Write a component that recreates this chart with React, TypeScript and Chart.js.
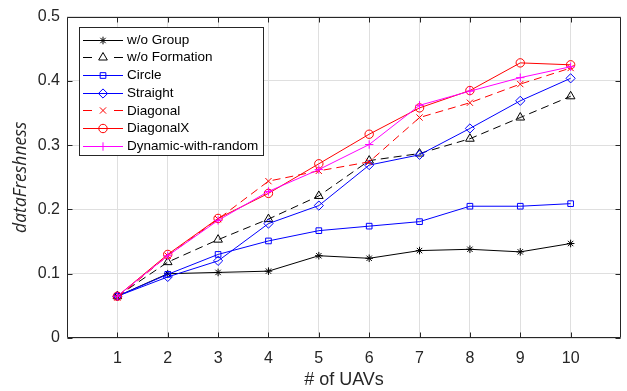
import React, { useEffect, useRef } from 'react';
import { Chart, registerables } from 'chart.js';
import { drawPoint } from 'chart.js/helpers';

Chart.register(...registerables);

// ---- data ----
const uavCounts = [1, 2, 3, 4, 5, 6, 7, 8, 9, 10];
const yTicks = [0, 0.1, 0.2, 0.3, 0.4, 0.5];
const woGroup = [0.065, 0.100, 0.102, 0.104, 0.128, 0.124, 0.136, 0.138, 0.134, 0.147];
const woFormation = [0.065, 0.118, 0.153, 0.185, 0.221, 0.276, 0.287, 0.310, 0.343, 0.376];
const circle = [0.065, 0.099, 0.130, 0.151, 0.167, 0.174, 0.181, 0.205, 0.205, 0.209];
const straight = [0.065, 0.095, 0.120, 0.178, 0.206, 0.269, 0.285, 0.326, 0.369, 0.404];
const diagonal = [0.063, 0.128, 0.185, 0.244, 0.260, 0.274, 0.343, 0.366, 0.395, 0.420];
const diagonalX = [0.065, 0.130, 0.186, 0.225, 0.271, 0.317, 0.358, 0.385, 0.428, 0.425];
const dynamicRandom = [0.065, 0.128, 0.183, 0.228, 0.262, 0.301, 0.362, 0.384, 0.405, 0.422];
const seriesNames = ['w/o Group', 'w/o Formation', 'Circle', 'Straight', 'Diagonal', 'DiagonalX', 'Dynamic-with-random'];
const seriesValues = [woGroup, woFormation, circle, straight, diagonal, diagonalX, dynamicRandom];

// ---- styles ----
const seriesStyles = [
  { color: '#000000', dash: [] as number[], point: 'star', r: 3.8 },
  { color: '#000000', dash: [8, 5], point: 'triangle', r: 5 },
  { color: '#0000ff', dash: [], point: 'rect', r: 4 },
  { color: '#0000ff', dash: [], point: 'rectRot', r: 4.6 },
  { color: '#ff0000', dash: [8, 5], point: 'crossRot', r: 4.4 },
  { color: '#ff0000', dash: [], point: 'circle', r: 4.2 },
  { color: '#ff00ff', dash: [], point: 'cross', r: 4.2 },
];

const FONT = '"Liberation Sans", Arial, Helvetica, sans-serif';
const AXIS_COLOR = '#262626';

const framePlugin = {
  id: 'frameAndLegend',
  afterDraw(chart: any) {
    const { ctx, chartArea: a, scales } = chart;
    ctx.save();
    ctx.strokeStyle = AXIS_COLOR;
    ctx.lineWidth = 1;
    ctx.setLineDash([]);
    const L = Math.round(a.left) + 0.5;
    const R = Math.round(a.right) - 0.5;
    const T = Math.round(a.top) + 0.5;
    const B = Math.round(a.bottom) - 0.5;
    ctx.beginPath();
    ctx.rect(L, T, R - L, B - T);
    const tl = 5;
    for (const v of uavCounts) {
      const x = Math.round(scales.x.getPixelForValue(v)) + 0.5;
      ctx.moveTo(x, B); ctx.lineTo(x, B - tl);
      ctx.moveTo(x, T); ctx.lineTo(x, T + tl);
    }
    for (const v of yTicks) {
      const y = Math.round(scales.y.getPixelForValue(v)) + 0.5;
      ctx.moveTo(L, y); ctx.lineTo(L + tl, y);
      ctx.moveTo(R, y); ctx.lineTo(R - tl, y);
    }
    ctx.stroke();

    // legend
    const bx = 79.5, by = 27.5, bw = 184, bh = 128;
    ctx.fillStyle = '#ffffff';
    ctx.fillRect(bx, by, bw, bh);
    ctx.strokeStyle = AXIS_COLOR;
    ctx.strokeRect(bx, by, bw, bh);
    ctx.font = `13.5px ${FONT}`;
    ctx.textBaseline = 'middle';
    ctx.textAlign = 'left';
    seriesNames.forEach((name, i) => {
      const st = seriesStyles[i];
      const y = 39.5 + i * 17.73;
      const yy = Math.round(y) + 0.5;
      ctx.strokeStyle = st.color;
      ctx.lineWidth = 1;
      ctx.setLineDash([]);
      ctx.beginPath();
      if (st.dash.length) {
        ctx.moveTo(83, yy); ctx.lineTo(92, yy);
        ctx.moveTo(114, yy); ctx.lineTo(123, yy);
      } else {
        ctx.moveTo(83, yy); ctx.lineTo(123, yy);
      }
      ctx.stroke();
      ctx.fillStyle = 'rgba(0,0,0,0)';
      drawPoint(ctx, { pointStyle: st.point, radius: st.r, rotation: 0, borderWidth: 1 } as any, 103, yy);
      ctx.fillStyle = '#000000';
      ctx.fillText(name, 127, y + 0.5);
    });
    ctx.restore();
  },
};

export default function App() {
  const ref = useRef<HTMLCanvasElement | null>(null);
  useEffect(() => {
    document.body.style.margin = '0';
    const canvas = ref.current;
    if (!canvas) return;
    const datasets = seriesNames.map((name, i) => {
      const st = seriesStyles[i];
      return {
        label: name,
        data: uavCounts.map((x, k) => ({ x, y: seriesValues[i][k] })),
        borderColor: st.color,
        backgroundColor: 'rgba(0,0,0,0)',
        borderWidth: 1,
        borderDash: st.dash,
        pointStyle: st.point,
        pointRadius: st.r,
        pointBorderWidth: 1,
        pointBorderColor: st.color,
        pointBackgroundColor: 'rgba(0,0,0,0)',
        tension: 0,
        fill: false,
        order: seriesNames.length - i,
      };
    });
    const chart = new Chart(canvas, {
      type: 'line',
      data: { datasets },
      plugins: [framePlugin],
      options: {
        responsive: false,
        devicePixelRatio: 1,
        animation: false,
        events: [],
        layout: { padding: { top: 16, right: 6, left: 0, bottom: 0 } },
        plugins: { legend: { display: false }, tooltip: { enabled: false } },
        scales: {
          x: {
            type: 'linear',
            min: 0,
            max: 11,
            afterBuildTicks: (s: any) => { s.ticks = uavCounts.map((v) => ({ value: v })); },
            afterFit: (s: any) => { s.height = 53; },
            grid: { color: '#dfdfdf', drawTicks: false, lineWidth: 1 },
            border: { display: false },
            ticks: {
              font: { family: FONT, size: 16 },
              color: AXIS_COLOR,
              padding: 11,
              maxRotation: 0,
              autoSkip: false,
              callback: (v: any) => String(v),
            },
            title: {
              display: true,
              text: '# of UAVs',
              font: { family: FONT, size: 18 },
              color: AXIS_COLOR,
              padding: { top: 0, bottom: 0 },
            },
          },
          y: {
            type: 'linear',
            min: 0,
            max: 0.5,
            afterBuildTicks: (s: any) => { s.ticks = yTicks.map((v) => ({ value: v })); },
            afterFit: (s: any) => { s.width = 67; },
            grid: { color: '#dfdfdf', drawTicks: false, lineWidth: 1 },
            border: { display: false },
            ticks: {
              font: { family: FONT, size: 16 },
              color: AXIS_COLOR,
              padding: 7,
              autoSkip: false,
              callback: (v: any) => (Number(v) === 0 ? '0' : Number(v).toFixed(1)),
            },
            title: {
              display: true,
              text: 'dataFreshness',
              font: { family: '"Open Sans", "DejaVu Sans", sans-serif', size: 17.5, style: 'italic' },
              color: AXIS_COLOR,
              padding: { top: 11, bottom: 0 },
            },
          },
        },
      } as any,
    });
    return () => chart.destroy();
  }, []);
  return (
    <div style={{ position: 'absolute', left: 0, top: 0, width: 627, height: 391 }}>
      <canvas ref={ref} width={627} height={391} style={{ display: 'block', width: 627, height: 391 }} />
    </div>
  );
}
